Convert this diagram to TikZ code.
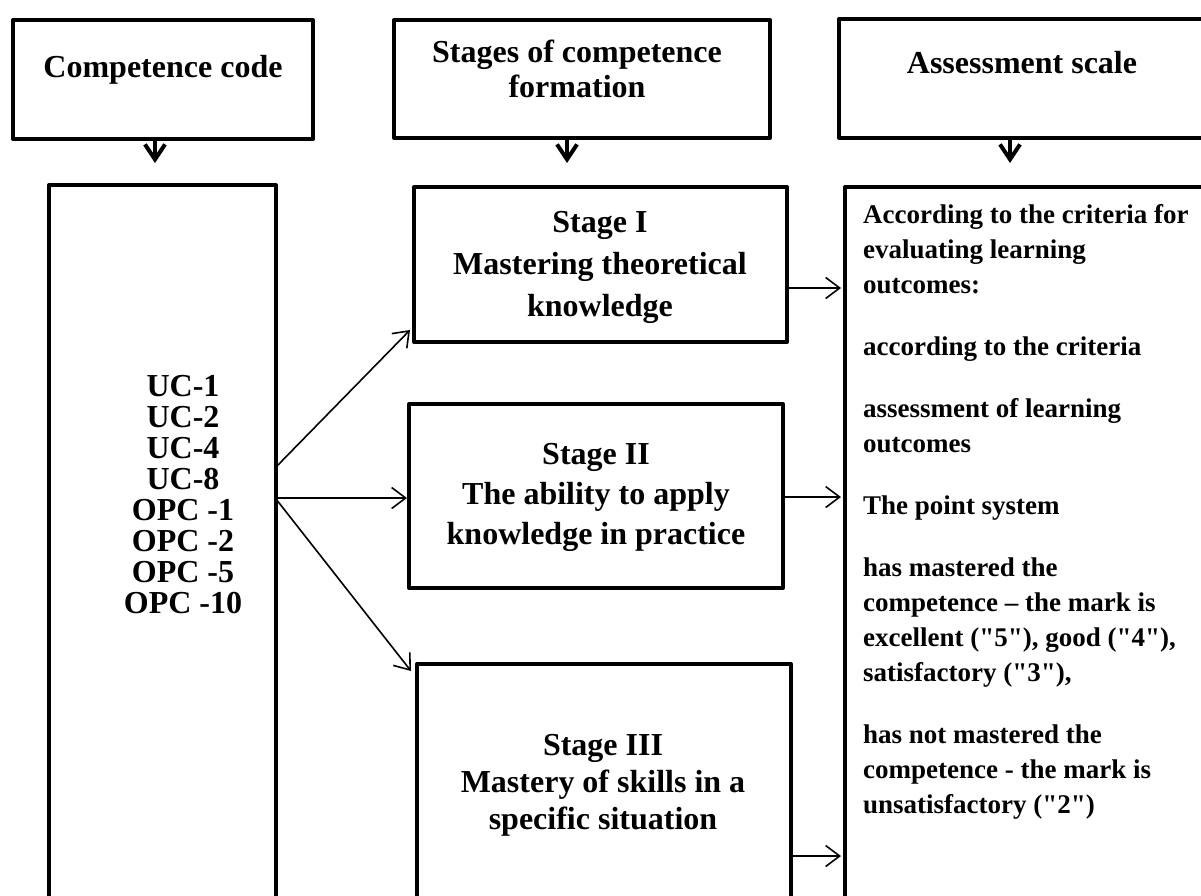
\documentclass[tikz,border=0pt]{standalone}
\usepackage{fontspec}
\setmainfont{Liberation Serif}
\newfontfamily\txtfont{Liberation Serif}
\usetikzlibrary{arrows.meta,calc}
\begin{document}
\begin{tikzpicture}[x=1pt,y=-1pt,
  box/.style={draw, line width=4pt, line join=round, inner sep=0pt, outer sep=0pt},
  bigarrow/.style={line width=4pt, -{Straight Barb[length=15pt,width=20pt]}},
  thinarrow/.style={line width=1.6pt, -{Straight Barb[length=14pt,width=21pt]}},
  head/.style={font=\txtfont\bfseries\fontsize{32}{35}\selectfont, align=center, anchor=base, inner sep=0pt},
  stagetext/.style={font=\txtfont\bfseries\fontsize{32}{#1}\selectfont, align=center, anchor=base, inner sep=0pt},
  scaletext/.style={font=\txtfont\bfseries\fontsize{27}{35}\selectfont, align=left, anchor=base west, inner sep=0pt}]
\useasboundingbox (0,0) rectangle (1201,895);
\clip (0,0) rectangle (1201,895);
\fill[white] (0,0) rectangle (1201,895);
% header boxes
\node[box, minimum width=300pt, minimum height=119pt] (A) at (163,79.5) {};
\node[box, minimum width=376pt, minimum height=118pt] (B) at (582,79) {};
\node[box, minimum width=411pt, minimum height=119pt] (C) at (1044.5,78.5) {};
% lower boxes
\node[box, minimum width=227pt, minimum height=765pt] (L) at (162.5,567.5) {};
\node[box, minimum width=373pt, minimum height=155pt] (S1) at (600.5,264.5) {};
\node[box, minimum width=374pt, minimum height=184pt] (S2) at (596,496) {};
\node[box, minimum width=374pt, minimum height=286pt] (S3) at (604,807) {};
\node[box, minimum width=405pt, minimum height=763pt] (R) at (1047.5,568.5) {};
% header texts (base anchor = baseline of the last line)
\node[head] (tA) at (163,77) {Competence code};
\node[head] (tB) at (577,97) {Stages of competence\\formation};
\node[head] (tC) at (1022,73) {Assessment scale};
% stage texts
\node[stagetext=42] (tS1) at (600,316) {Stage I\\Mastering theoretical\\knowledge};
\node[stagetext=40] (tS2) at (596,544) {Stage II\\The ability to apply\\knowledge in practice};
\node[stagetext=37] (tS3) at (603,829) {Stage III\\Mastery of skills in a\\specific situation};
% competence codes
\node[stagetext=31] (tL) at (183,613) {UC-1\\UC-2\\UC-4\\UC-8\\OPC -1\\OPC -2\\OPC -5\\OPC -10};
% assessment scale text
\node[scaletext] (tR) at (863,813) {According to the criteria for\\evaluating learning\\outcomes:\\[27pt]according to the criteria\\[27pt]assessment of learning\\outcomes\\[27pt]The point system\\[27pt]has mastered the\\competence – the mark is\\excellent ("5"), good ("4"),\\satisfactory ("3"),\\[27pt]has not mastered the\\competence - the mark is\\unsatisfactory ("2")};
% thick down arrows
\draw[bigarrow, shorten >=22pt] ([xshift=-8pt]A.south) -- ([xshift=-8pt]A.south |- L.north);
\draw[bigarrow, shorten >=24pt] ([xshift=-15pt]B.south) -- ([xshift=-15pt]B.south |- S1.north);
\draw[bigarrow, shorten >=24pt] ([xshift=-34.5pt]C.south) -- ([xshift=-34.5pt]C.south |- R.north);
% thin arrows from competence codes to stages
\draw[thinarrow] ($(L.north east)+(0,282)$) -- ($(S1.south west)+(-4,-12)$);
\draw[thinarrow] ($(L.north east)+(0,313)$) -- ($(S2.north west)+(-2,94)$);
\draw[thinarrow] ($(L.north east)+(0,314)$) -- ($(S3.north west)+(-6,7)$);
% thin arrows from stages to the assessment scale
\draw[thinarrow] ($(S1.north east)+(0,101)$) -- ($(R.north west)+(-4,101)$);
\draw[thinarrow] ($(S2.north east)+(0,93)$) -- ($(R.north west)+(-4,310)$);
\draw[thinarrow] ($(S3.north east)+(0,192)$) -- ($(R.north west)+(-4,669)$);
\end{tikzpicture}
\end{document}
